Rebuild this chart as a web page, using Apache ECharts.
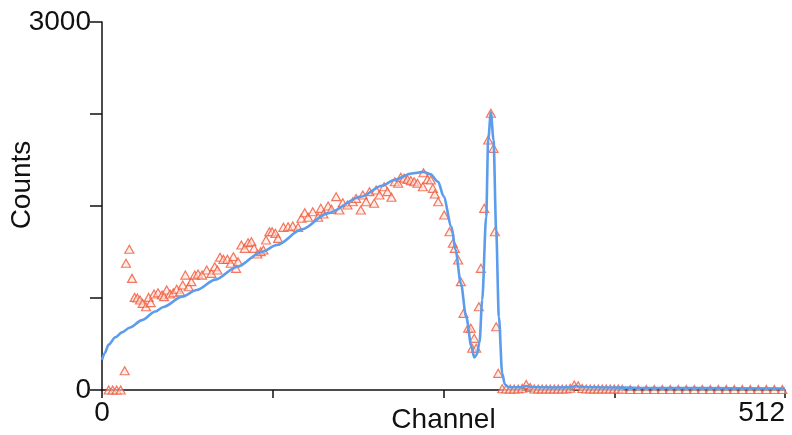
<!DOCTYPE html>
<html>
<head>
<meta charset="utf-8">
<script src="https://cdn.jsdelivr.net/npm/echarts@6/dist/echarts.min.js"></script>
<style>
    html, body { margin: 0; padding: 0; background: #fff; }
    #chart { width: 792px; height: 435px; }
</style>
</head>
<body>
<div id="chart"></div>
<script>
// measured counts per channel (triangles)
const measured = [
    [5, 0], [8, 0], [11, 0], [14, 0], [17, 157], [18, 1033], [20.5, 1147], [22.5, 910],
    [24.5, 755], [26.5, 750], [28.5, 734], [30.5, 706], [33, 679], [35, 755], [36.5, 712],
    [39, 783], [42, 793], [45, 774], [46.5, 761], [48.5, 815], [51, 783], [53.5, 793],
    [56, 821], [58.5, 801], [60.5, 856], [62.5, 937], [65, 842], [67, 883], [69.5, 937],
    [72, 946], [75, 937], [78.5, 978], [82, 951], [84.5, 1005], [86.5, 978], [88.5, 1082],
    [91, 1065], [94, 1065], [96.5, 1033], [98.5, 1087], [100.5, 992], [102, 1046],
    [104.5, 1182], [107, 1155], [109.5, 1201], [112, 1209], [114, 1155], [116.5, 1109],
    [119, 1128], [121, 1141], [123, 1223], [125.5, 1290], [127.5, 1290], [130, 1277],
    [132, 1236], [136, 1326], [139.5, 1331], [143, 1337], [147, 1326], [149.5, 1400],
    [152, 1445], [154.5, 1408], [158, 1453], [162, 1408], [164, 1481], [166, 1435],
    [169.5, 1500], [172, 1473], [175.5, 1576], [178, 1467], [180.5, 1527], [184, 1508],
    [188, 1535], [190.5, 1562], [194, 1467], [195.5, 1590], [198, 1535], [200.5, 1617],
    [204, 1522], [205.5, 1630], [208, 1590], [211.5, 1657], [214, 1617], [217, 1571],
    [219.5, 1698], [222, 1685], [224, 1734], [226.5, 1726], [229, 1717], [231.5, 1707],
    [234, 1698], [236.5, 1685], [240.5, 1657], [241, 1771], [244, 1717], [246.5, 1712],
    [248, 1644], [249.5, 1598], [252, 1535], [256.5, 1427], [260.5, 1290], [263, 1196],
    [264.5, 1155], [267, 1060], [269, 883], [271, 625], [274.5, 503], [276.5, 503],
    [277.5, 340], [279, 421], [280.5, 340], [282.5, 679], [284, 992], [286.5, 1481],
    [289.5, 2038], [291.5, 2256], [293.5, 1970], [294.5, 1290], [295.5, 516], [297, 136],
    [300, 10], [303, 8], [306, 8], [309, 8], [312, 8], [315, 14], [318, 45], [321, 20],
    [324, 8], [327, 8], [330, 8], [333, 8], [336, 8], [339, 8], [342, 8], [345, 8],
    [348, 8], [351, 14], [354, 40], [357, 35], [360, 12], [363, 8], [366, 8], [369, 8],
    [372, 8], [375, 8], [378, 8], [381, 8], [384, 8], [387, 8], [390, 6], [396, 4],
    [402, 4], [408, 4], [414, 4], [420, 4], [426, 4], [432, 4], [438, 4], [444, 4],
    [450, 4], [456, 4], [462, 4], [468, 4], [474, 4], [480, 4], [486, 4], [492, 4],
    [498, 4], [504, 4], [510, 4]
];

// fitted curve (blue line)
const fitted = [
    [0, 245], [2, 300], [5, 370], [10, 430], [15, 470], [21, 510], [30, 570], [40, 640],
    [46, 677], [60, 760], [71, 815], [85, 900], [101, 1003], [120, 1127], [131, 1182],
    [150, 1310], [169, 1440], [194, 1576], [210, 1665], [219, 1712], [232, 1765],
    [241, 1778], [246, 1760], [252, 1698], [256, 1580], [262, 1331], [265, 1141],
    [269, 870], [273, 597], [277, 353], [279, 265], [281, 290], [283, 390], [285, 734],
    [288, 1413], [289.5, 2038], [291.5, 2262], [293.5, 2038], [295.5, 1300], [297.5, 597],
    [300, 136], [302, 45], [305, 22], [315, 22], [318, 32], [322, 24], [340, 20],
    [352, 22], [355, 34], [359, 24], [380, 20], [400, 18], [450, 15], [512, 12]
];

const xTicks = { min: 0, max: 512, step: 128 };
const yTicks = { min: 0, max: 3000, step: 750 };

const chart = echarts.init(document.getElementById('chart'));
const font = { fontFamily: 'Liberation Sans, Arial, sans-serif', fontSize: 28, color: '#111' };

chart.setOption({
    backgroundColor: '#fff',
    animation: false,
    grid: { left: 102, right: 7, top: 22, bottom: 45, containLabel: false, outerBoundsMode: 'none' },
    xAxis: {
        type: 'value',
        min: xTicks.min,
        max: xTicks.max,
        interval: xTicks.step,
        name: 'Channel',
        nameLocation: 'middle',
        nameGap: 16,
        nameMoveOverlap: false,
        nameTextStyle: font,
        axisLine: { lineStyle: { color: '#111', width: 1.5 } },
        axisTick: { length: 8, lineStyle: { color: '#111', width: 1.5 } },
        axisLabel: Object.assign({}, font, {
            margin: 9,
            alignMaxLabel: 'right',
            formatter: v => (v === xTicks.min || v === xTicks.max) ? String(v) : ''
        }),
        splitLine: { show: false }
    },
    yAxis: {
        type: 'value',
        min: yTicks.min,
        max: yTicks.max,
        interval: yTicks.step,
        name: 'Counts',
        nameLocation: 'middle',
        nameGap: 66,
        nameMoveOverlap: false,
        nameTextStyle: Object.assign({}, font, { padding: [0, 0, 0, 42] }),
        axisLine: { show: true, lineStyle: { color: '#111', width: 1.5 } },
        axisTick: { show: true, length: 12, lineStyle: { color: '#111', width: 1.5 } },
        axisLabel: Object.assign({}, font, {
            margin: 11,
            formatter: v => (v === yTicks.min || v === yTicks.max) ? String(v) : ''
        }),
        splitLine: { show: false }
    },
    series: [{
        name: 'measured',
        type: 'scatter',
        symbol: 'triangle',
        symbolSize: [9, 8],
        z: 2,
        itemStyle: {
            color: 'rgba(255, 225, 215, 0.7)',
            borderColor: '#f0583a',
            borderWidth: 1.2
        },
        data: measured
    }, {
        name: 'fit',
        type: 'line',
        showSymbol: false,
        smooth: 0.3,
        smoothMonotone: 'x',
        z: 3,
        lineStyle: { color: '#5b9cec', width: 2.6 },
        data: fitted
    }]
});
</script>
</body>
</html>
